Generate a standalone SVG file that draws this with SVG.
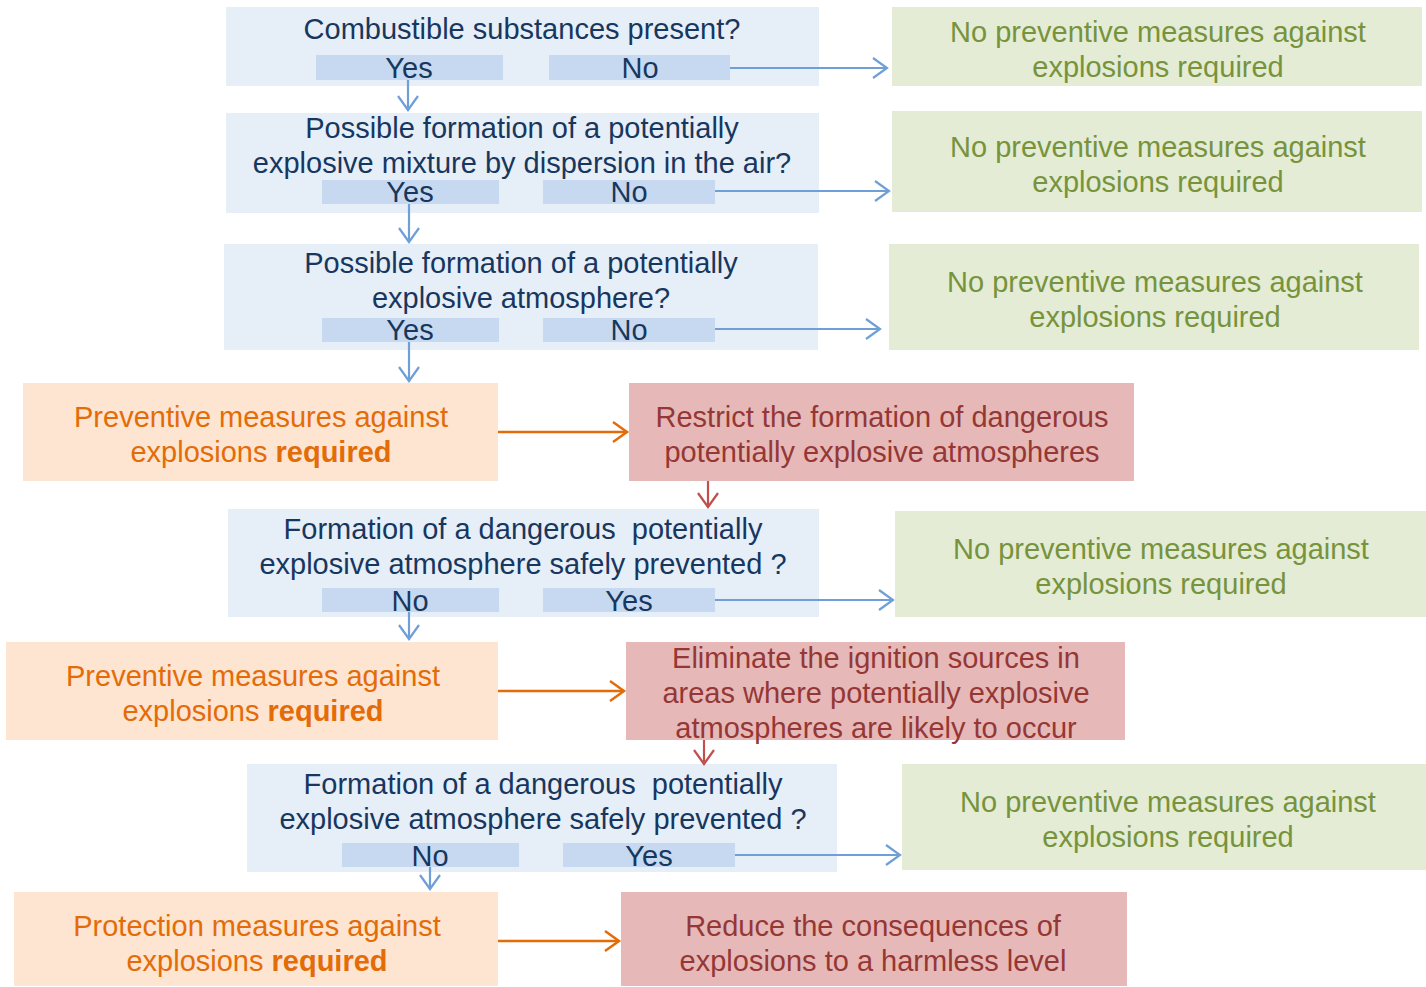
<svg xmlns="http://www.w3.org/2000/svg" width="1426" height="987" viewBox="0 0 1426 987">
<style>
text{font-family:"Liberation Sans",Arial,sans-serif;font-size:29px;text-anchor:middle;white-space:pre}
.q{fill:#e6eef8}.bar{fill:#c6d9f0}.qt{fill:#17375e}
.g{fill:#e4ecd5}.gt{fill:#77933c}
.o{fill:#fde5d1}.ot{fill:#e36c09}
.r{fill:#e6b9b8}.rt{fill:#953735}
.cb{stroke:#6f9fd8;stroke-width:2.2;fill:none}
.co{stroke:#e36c09;stroke-width:2.5;fill:none}
.cr{stroke:#c0504d;stroke-width:2.2;fill:none}
</style>
<defs>
<marker id="ab" markerWidth="18" markerHeight="24" refX="15" refY="12" orient="auto" markerUnits="userSpaceOnUse"><path d="M1,2 L15,12 L1,22" fill="none" stroke="#6f9fd8" stroke-width="2.2"/></marker>
<marker id="ao" markerWidth="18" markerHeight="24" refX="15" refY="12" orient="auto" markerUnits="userSpaceOnUse"><path d="M1,2 L15,12 L1,22" fill="none" stroke="#e36c09" stroke-width="2.5"/></marker>
<marker id="ar" markerWidth="18" markerHeight="24" refX="15" refY="12" orient="auto" markerUnits="userSpaceOnUse"><path d="M1,2 L15,12 L1,22" fill="none" stroke="#c0504d" stroke-width="2.2"/></marker>
</defs>

<g id="q1"><rect class="q" x="226" y="7" width="593" height="79"/>
<rect class="bar" x="316" y="55" width="187" height="25"/><rect class="bar" x="549" y="55" width="181" height="25"/>
<text class="qt" x="522" y="39">Combustible substances present?</text>
<text class="qt" x="409" y="78">Yes</text><text class="qt" x="640" y="78">No</text></g>

<g id="q2"><rect class="q" x="226" y="113" width="593" height="100"/>
<rect class="bar" x="322" y="180" width="177" height="24"/><rect class="bar" x="543" y="180" width="172" height="24"/>
<text class="qt" x="522" y="138">Possible formation of a potentially</text>
<text class="qt" x="522" y="173">explosive mixture by dispersion in the air?</text>
<text class="qt" x="410" y="202">Yes</text><text class="qt" x="629" y="202">No</text></g>

<g id="q3"><rect class="q" x="224" y="244" width="594" height="106"/>
<rect class="bar" x="322" y="318" width="177" height="24"/><rect class="bar" x="543" y="318" width="172" height="24"/>
<text class="qt" x="521" y="273">Possible formation of a potentially</text>
<text class="qt" x="521" y="308">explosive atmosphere?</text>
<text class="qt" x="410" y="340">Yes</text><text class="qt" x="629" y="340">No</text></g>

<g id="g1"><rect class="g" x="892" y="7" width="530" height="79"/>
<text class="gt" x="1158" y="42">No preventive measures against</text>
<text class="gt" x="1158" y="77">explosions required</text></g>

<g id="g2"><rect class="g" x="892" y="111" width="530" height="101"/>
<text class="gt" x="1158" y="157">No preventive measures against</text>
<text class="gt" x="1158" y="192">explosions required</text></g>

<g id="g3"><rect class="g" x="889" y="244" width="530" height="106"/>
<text class="gt" x="1155" y="292">No preventive measures against</text>
<text class="gt" x="1155" y="327">explosions required</text></g>

<g id="o1"><rect class="o" x="23" y="383" width="475" height="98"/>
<text class="ot" x="261" y="427">Preventive measures against</text>
<text class="ot" x="261" y="462">explosions <tspan font-weight="bold">required</tspan></text></g>

<g id="r1"><rect class="r" x="629" y="383" width="505" height="98"/>
<text class="rt" x="882" y="427">Restrict the formation of dangerous</text>
<text class="rt" x="882" y="462">potentially explosive atmospheres</text></g>

<g id="q4"><rect class="q" x="228" y="509" width="591" height="108"/>
<rect class="bar" x="322" y="588" width="177" height="24"/><rect class="bar" x="543" y="588" width="172" height="24"/>
<text class="qt" x="523" y="539">Formation of a dangerous  potentially</text>
<text class="qt" x="523" y="574">explosive atmosphere safely prevented ?</text>
<text class="qt" x="410" y="611">No</text><text class="qt" x="629" y="611">Yes</text></g>

<g id="g4"><rect class="g" x="895" y="511" width="531" height="106"/>
<text class="gt" x="1161" y="559">No preventive measures against</text>
<text class="gt" x="1161" y="594">explosions required</text></g>

<g id="o2"><rect class="o" x="6" y="642" width="492" height="98"/>
<text class="ot" x="253" y="686">Preventive measures against</text>
<text class="ot" x="253" y="721">explosions <tspan font-weight="bold">required</tspan></text></g>

<g id="r2"><rect class="r" x="626" y="642" width="499" height="98"/>
<text class="rt" x="876" y="668">Eliminate the ignition sources in</text>
<text class="rt" x="876" y="703">areas where potentially explosive</text>
<text class="rt" x="876" y="738">atmospheres are likely to occur</text></g>

<g id="q5"><rect class="q" x="247" y="764" width="590" height="108"/>
<rect class="bar" x="342" y="843" width="177" height="24"/><rect class="bar" x="563" y="843" width="172" height="24"/>
<text class="qt" x="543" y="794">Formation of a dangerous  potentially</text>
<text class="qt" x="543" y="829">explosive atmosphere safely prevented ?</text>
<text class="qt" x="430" y="866">No</text><text class="qt" x="649" y="866">Yes</text></g>

<g id="g5"><rect class="g" x="902" y="764" width="524" height="106"/>
<text class="gt" x="1168" y="812">No preventive measures against</text>
<text class="gt" x="1168" y="847">explosions required</text></g>

<g id="o3"><rect class="o" x="14" y="892" width="484" height="94"/>
<text class="ot" x="257" y="936">Protection measures against</text>
<text class="ot" x="257" y="971">explosions <tspan font-weight="bold">required</tspan></text></g>

<g id="r3"><rect class="r" x="621" y="892" width="506" height="94"/>
<text class="rt" x="873" y="936">Reduce the consequences of</text>
<text class="rt" x="873" y="971">explosions to a harmless level</text></g>

<g id="connectors">
<line class="cb" x1="730" y1="68" x2="887" y2="68" marker-end="url(#ab)"/>
<line class="cb" x1="408" y1="80" x2="408" y2="110" marker-end="url(#ab)"/>
<line class="cb" x1="715" y1="191" x2="889" y2="191" marker-end="url(#ab)"/>
<line class="cb" x1="409" y1="204" x2="409" y2="242" marker-end="url(#ab)"/>
<line class="cb" x1="715" y1="329" x2="880" y2="329" marker-end="url(#ab)"/>
<line class="cb" x1="409" y1="342" x2="409" y2="381" marker-end="url(#ab)"/>
<line class="co" x1="498" y1="432" x2="627" y2="432" marker-end="url(#ao)"/>
<line class="cr" x1="708" y1="481" x2="708" y2="507" marker-end="url(#ar)"/>
<line class="cb" x1="715" y1="600" x2="893" y2="600" marker-end="url(#ab)"/>
<line class="cb" x1="409" y1="612" x2="409" y2="639" marker-end="url(#ab)"/>
<line class="co" x1="498" y1="691" x2="624" y2="691" marker-end="url(#ao)"/>
<line class="cr" x1="704" y1="740" x2="704" y2="764" marker-end="url(#ar)"/>
<line class="cb" x1="735" y1="855" x2="900" y2="855" marker-end="url(#ab)"/>
<line class="cb" x1="430" y1="867" x2="430" y2="889" marker-end="url(#ab)"/>
<line class="co" x1="498" y1="941" x2="619" y2="941" marker-end="url(#ao)"/>
</g>
</svg>
